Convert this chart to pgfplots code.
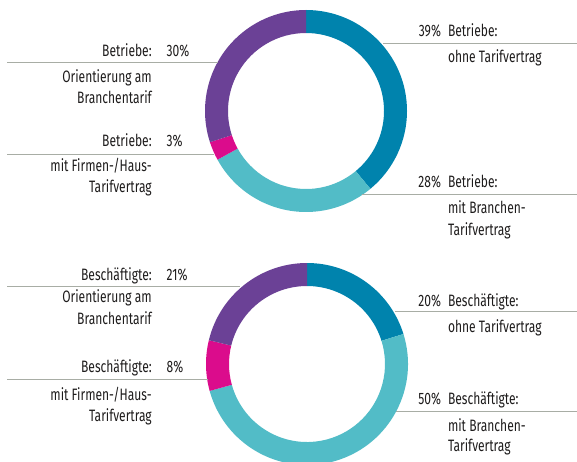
\documentclass[border=0pt]{standalone}
\usepackage{pgfplots}
\pgfplotsset{compat=1.18}
\usepackage{pgfplotstable}
\usepackage{fontspec}
\setmainfont{Fira Sans}[FakeStretch=0.73]
\definecolor{cBlue}{RGB}{0,131,173}
\definecolor{cTeal}{RGB}{82,188,199}
\definecolor{cMag}{RGB}{219,12,140}
\definecolor{cPurp}{RGB}{107,65,150}
\definecolor{cLine}{RGB}{168,173,165}
\definecolor{cText}{RGB}{30,28,28}

\pgfplotstableread{
category value color
ohne 39 cBlue
branchen 28 cTeal
firmen 3 cMag
orient 30 cPurp
}\betriebe
\pgfplotstableread{
category value color
ohne 20 cBlue
branchen 50 cTeal
firmen 8 cMag
orient 21 cPurp
}\beschaeftigte

% #1 table, #2 cx, #3 cy, #4 outer radius, #5 ring thickness, #6 inner radius
\newcommand{\donut}[6]{%
  \pgfplotstablegetrowsof{#1}%
  \pgfmathtruncatemacro\nrows{\pgfplotsretval-1}%
  \def\total{0}%
  \pgfplotsforeachungrouped \i in {0,...,\nrows}{%
    \pgfplotstablegetelem{\i}{value}\of{#1}%
    \pgfmathsetmacro\total{\total+\pgfplotsretval}%
  }%
  \def\cum{0}%
  \pgfplotsforeachungrouped \i in {0,...,\nrows}{%
    \pgfplotstablegetelem{\i}{value}\of{#1}\let\val\pgfplotsretval
    \pgfplotstablegetelem{\i}{color}\of{#1}\let\col\pgfplotsretval
    \pgfmathsetmacro\sa{90-360*(\cum/\total)}%
    \pgfmathsetmacro\cum{\cum+\val}%
    \pgfmathsetmacro\ea{90-360*(\cum/\total)}%
    \edef\cmd{\noexpand\fill[\col] (axis cs:#2,#3) ++(\sa:#4pt)
      arc[start angle=\sa, end angle=\ea, radius=#4pt]
      -- ++(\ea:-#5pt)
      arc[start angle=\ea, end angle=\sa, radius=#6pt] -- cycle;}%
    \cmd
  }%
}

\begin{document}
\begin{tikzpicture}
\begin{axis}[
  scale only axis, width=577pt, height=462pt,
  xmin=0, xmax=577, ymin=0, ymax=462, y dir=reverse,
  hide axis, clip=true,
]
\donut{\betriebe}{306}{111}{101}{23}{78}
\donut{\beschaeftigte}{307}{364}{101}{23}{78}

% leader lines
\draw[cLine, line width=1.4pt] (axis cs:7,62.5) -- (axis cs:218,62.5);
\draw[cLine, line width=1.4pt] (axis cs:7,154.7) -- (axis cs:214,154.7);
\draw[cLine, line width=1.4pt] (axis cs:383,43.7) -- (axis cs:577,43.7);
\draw[cLine, line width=1.4pt] (axis cs:362,194.3) -- (axis cs:577,194.3);
\draw[cLine, line width=1.4pt] (axis cs:7,286.7) -- (axis cs:240,286.7);
\draw[cLine, line width=1.4pt] (axis cs:7,379.3) -- (axis cs:208,379.3);
\draw[cLine, line width=1.4pt] (axis cs:395,311.7) -- (axis cs:577,311.7);
\draw[cLine, line width=1.4pt] (axis cs:396,411.7) -- (axis cs:577,411.7);

\tikzset{every node/.style={inner sep=0pt, outer sep=0pt, text=cText, font=\fontsize{16.5}{19}\selectfont}}
% top left
\node[anchor=base east] at (axis cs:151.7,57) {Betriebe:};
\node[anchor=base west] at (axis cs:166.7,57) {30\%};
\node[anchor=base east] at (axis cs:151.7,83) {Orientierung am};
\node[anchor=base east] at (axis cs:151.7,104) {Branchentarif};
\node[anchor=base east] at (axis cs:151.7,147) {Betriebe:};
\node[anchor=base west] at (axis cs:166.7,147) {3\%};
\node[anchor=base east] at (axis cs:151.7,172) {mit Firmen-/Haus-};
\node[anchor=base east] at (axis cs:151.7,192.5) {Tarifvertrag};
% top right
\node[anchor=base east] at (axis cs:441,37) {39\%};
\node[anchor=base west] at (axis cs:448,37) {Betriebe:};
\node[anchor=base west] at (axis cs:448,62.5) {ohne Tarifvertrag};
\node[anchor=base east] at (axis cs:441,187) {28\%};
\node[anchor=base west] at (axis cs:448,187) {Betriebe:};
\node[anchor=base west] at (axis cs:448,213) {mit Branchen-};
\node[anchor=base west] at (axis cs:448,235) {Tarifvertrag};
% bottom left
\node[anchor=base east] at (axis cs:151.7,280) {Beschäftigte:};
\node[anchor=base west] at (axis cs:166.7,280) {21\%};
\node[anchor=base east] at (axis cs:151.7,302.7) {Orientierung am};
\node[anchor=base east] at (axis cs:151.7,324) {Branchentarif};
\node[anchor=base east] at (axis cs:151.7,372.7) {Beschäftigte:};
\node[anchor=base west] at (axis cs:166.7,372.7) {8\%};
\node[anchor=base east] at (axis cs:151.7,400.7) {mit Firmen-/Haus-};
\node[anchor=base east] at (axis cs:151.7,421.7) {Tarifvertrag};
% bottom right
\node[anchor=base east] at (axis cs:441,306) {20\%};
\node[anchor=base west] at (axis cs:448,306) {Beschäftigte:};
\node[anchor=base west] at (axis cs:448,332.7) {ohne Tarifvertrag};
\node[anchor=base east] at (axis cs:441,404.3) {50\%};
\node[anchor=base west] at (axis cs:448,404.3) {Beschäftigte:};
\node[anchor=base west] at (axis cs:448,431) {mit Branchen-};
\node[anchor=base west] at (axis cs:448,451) {Tarifvertrag};
\end{axis}
\pgfresetboundingbox
\path (current axis.south west) rectangle (current axis.north east);
\end{tikzpicture}
\end{document}
